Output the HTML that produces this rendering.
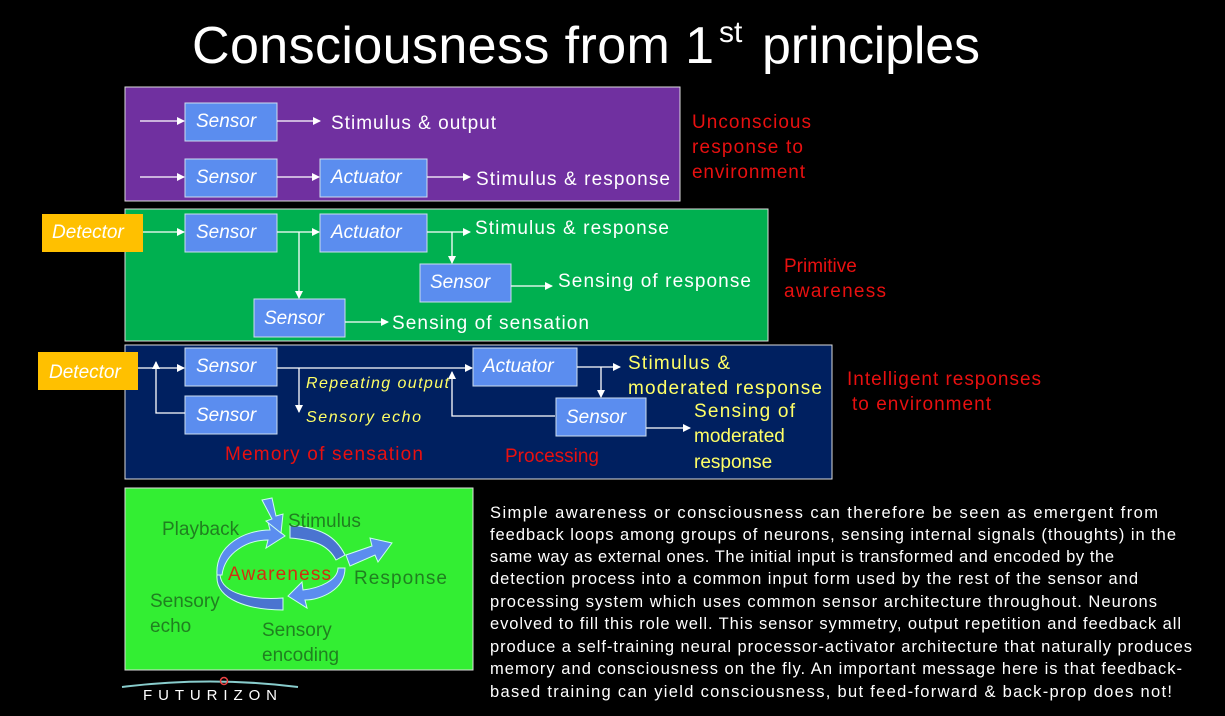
<!DOCTYPE html>
<html><head><style>body{margin:0;background:#000;width:1225px;height:711px;overflow:hidden}</style></head><body>
<svg width="1225" height="711" xmlns="http://www.w3.org/2000/svg" font-family="Liberation Sans, Arial, sans-serif">
<defs><marker id="a" markerWidth="8" markerHeight="8" refX="7" refY="4" orient="auto" markerUnits="userSpaceOnUse"><path d="M0,0 L8,4 L0,8 z" fill="#fff"/></marker></defs>
<rect width="1225" height="711" fill="#000"/>
<text x="192" y="63" font-size="52" fill="#fff" textLength="522" lengthAdjust="spacing">Consciousness from 1</text>
<text x="719" y="42" font-size="30" fill="#fff">st</text>
<text x="762" y="63" font-size="52" fill="#fff" textLength="218" lengthAdjust="spacing">principles</text>
<rect x="125" y="87" width="555" height="114" fill="#7030a0" stroke="#ddd"/>
<rect x="125" y="209" width="643" height="132" fill="#00b050" stroke="#ddd"/>
<rect x="125" y="345" width="707" height="134" fill="#002060" stroke="#ddd"/>
<rect x="125" y="488" width="348" height="182" fill="#33ee33" stroke="#ddd"/>
<g fill="#5b8def" stroke="#cde" stroke-width="1">
<rect x="185" y="103" width="92" height="38"/><rect x="185" y="159" width="92" height="38"/><rect x="320" y="159" width="107" height="38"/>
<rect x="185" y="214" width="92" height="38"/><rect x="320" y="214" width="107" height="38"/><rect x="420" y="264" width="91" height="38"/><rect x="254" y="299" width="91" height="38"/>
<rect x="185" y="348" width="92" height="38"/><rect x="185" y="396" width="92" height="38"/><rect x="473" y="348" width="104" height="38"/><rect x="556" y="398" width="90" height="38"/>
</g>
<rect x="42" y="214" width="101" height="38" fill="#ffc000"/>
<rect x="38" y="352" width="100" height="38" fill="#ffc000"/>
<g font-size="19" font-style="italic" fill="#fff">
<text x="196" y="127">Sensor</text><text x="196" y="183">Sensor</text><text x="331" y="183">Actuator</text>
<text x="196" y="238">Sensor</text><text x="331" y="238">Actuator</text><text x="430" y="288">Sensor</text><text x="264" y="324">Sensor</text>
<text x="196" y="372">Sensor</text><text x="196" y="421">Sensor</text><text x="483" y="372">Actuator</text><text x="566" y="423">Sensor</text>
<text x="52" y="238">Detector</text><text x="49" y="378">Detector</text>
</g>
<g stroke="#fff" stroke-width="1.3" fill="none" marker-end="url(#a)">
<path d="M140 121H184"/><path d="M277 121H320"/><path d="M140 177H184"/><path d="M277 177H319"/><path d="M427 177H470"/>
<path d="M143 232H184"/><path d="M277 232H319"/><path d="M427 232H470"/><path d="M452 232V263"/><path d="M511 286H552"/><path d="M299 232V298"/><path d="M345 322H388"/>
<path d="M138 368H184"/><path d="M277 368H472"/><path d="M299 368V412"/><path d="M577 367H620"/><path d="M601 367V397"/><path d="M646 428H690"/>
<path d="M555 416H452V372"/><path d="M185 413H156V362"/>
</g>
<g font-size="19" fill="#fff" lengthAdjust="spacing">
<text x="331" y="129" textLength="165">Stimulus  &amp; output</text><text x="476" y="185" textLength="194">Stimulus  &amp; response</text>
<text x="475" y="234" textLength="194">Stimulus  &amp; response</text><text x="558" y="287" textLength="193">Sensing of response</text><text x="392" y="329" textLength="197">Sensing of sensation</text>
</g>
<g font-size="19" fill="#ffff66"><text x="628" y="369" textLength="102">Stimulus  &amp;</text><text x="628" y="394" textLength="194">moderated  response</text>
<text x="694" y="417" textLength="101">Sensing  of</text><text x="694" y="442">moderated</text><text x="694" y="468">response</text></g>
<g font-size="16" font-style="italic" fill="#ffff66"><text x="306" y="388" textLength="143">Repeating output</text><text x="306" y="422" textLength="115">Sensory echo</text></g>
<g font-size="19" fill="#e81010"><text x="225" y="460" textLength="198">Memory  of sensation</text><text x="505" y="462">Processing</text>
<text x="692" y="128" textLength="119">Unconscious</text><text x="692" y="153" textLength="111">response  to</text><text x="692" y="178" textLength="113">environment</text>
<text x="784" y="272">Primitive</text><text x="784" y="297" textLength="102">awareness</text>
<text x="847" y="385" textLength="194">Intelligent  responses</text><text x="852" y="410" textLength="139">to environment</text></g>
<g fill="#5b8def" stroke="#cfe" stroke-width="1">
<path d="M217 575 C215 545 245 530 270 530 L268 522 L285 536 L266 548 L268 540 C248 540 225 552 222 575 Z"/>
<path d="M290 525 C320 528 335 535 345 555 L336 560 C328 545 315 540 290 538 Z" fill="#4a74d0"/>
<path d="M346 555 L372 546 L370 538 L392 543 L378 562 L375 555 L350 566 Z"/>
<path d="M345 568 C345 590 320 600 305 600 L307 608 L288 596 L302 582 L303 590 C320 588 338 580 338 568 Z"/>
<path d="M220 575 C222 595 255 600 283 598 L283 610 C250 610 215 600 217 575 Z" fill="#4a74d0"/>
<path d="M262 500 L272 498 L276 516 L283 514 L281 533 L266 521 L272 519 Z"/>
</g>
<g font-size="19" fill="#208020"><text x="162" y="535">Playback</text><text x="288" y="527">Stimulus</text><text x="354" y="584" textLength="93">Response</text>
<text x="150" y="607">Sensory</text><text x="150" y="632">echo</text><text x="262" y="636">Sensory</text><text x="262" y="661">encoding</text></g>
<text x="228" y="580" font-size="19" fill="#d03010" textLength="103">Awareness</text>
<g font-size="16.5" fill="#fff" lengthAdjust="spacing">
<text x="490" y="518" textLength="668">Simple awareness or consciousness can therefore be seen as emergent from</text>
<text x="490" y="540" textLength="686">feedback loops among groups of neurons, sensing internal signals (thoughts) in the</text>
<text x="490" y="562" textLength="624">same way as external ones. The initial input is transformed and encoded by the</text>
<text x="490" y="584" textLength="648">detection process into a common input form used by the rest of the sensor and</text>
<text x="490" y="607" textLength="667">processing system which uses common sensor architecture throughout.  Neurons</text>
<text x="490" y="629" textLength="691">evolved to fill this role well. This sensor symmetry, output repetition and feedback all</text>
<text x="490" y="652" textLength="702">produce a self-training neural processor-activator architecture that naturally produces</text>
<text x="490" y="674" textLength="692">memory and consciousness on the fly. An important message here is that feedback-</text>
<text x="490" y="697" textLength="682">based training can yield consciousness, but feed-forward &amp; back-prop does not!</text>
</g>
<path d="M122 687 Q210 676 298 687" stroke="#8cc" stroke-width="2" fill="none"/>
<circle cx="224" cy="681" r="3.5" fill="none" stroke="#e44" stroke-width="1.5"/>
<text x="143" y="700" font-size="15" fill="#fff" textLength="134" lengthAdjust="spacing">FUTURIZON</text>
</svg>
</body></html>
